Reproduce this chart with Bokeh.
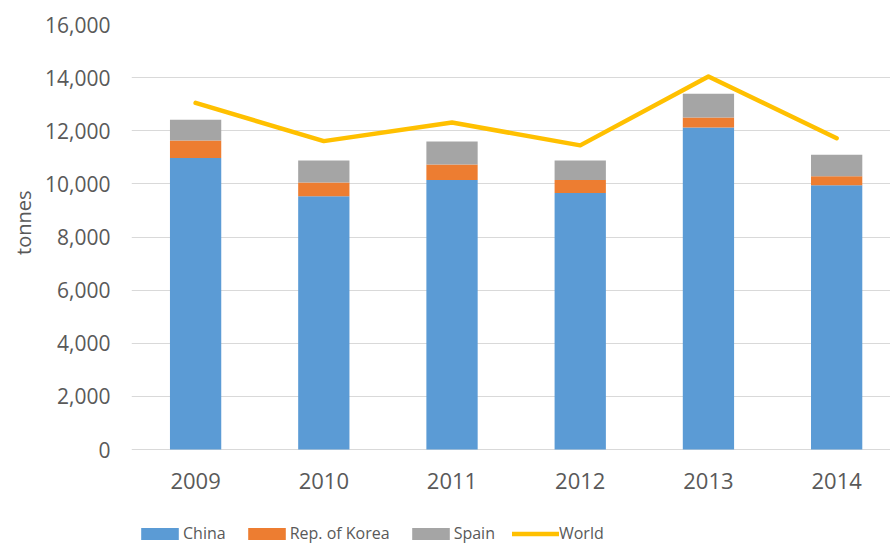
from bokeh.plotting import figure
from bokeh.models import ColumnDataSource, Range1d, FixedTicker, NumeralTickFormatter, Legend, LegendItem, Title
from bokeh.core.properties import value
from bokeh.embed import file_html
from bokeh.resources import INLINE

years = [2009, 2010, 2011, 2012, 2013, 2014]
year_labels = ["2009", "2010", "2011", "2012", "2013", "2014"]
china = [10970, 9530, 10150, 9660, 12120, 9950]
korea = [660, 520, 580, 490, 380, 340]
spain = [780, 830, 870, 730, 890, 810]
world = [13050, 11610, 12310, 11450, 14040, 11720]
y_ticks = [0, 2000, 4000, 6000, 8000, 10000, 12000, 14000, 16000]
series_names = ["China", "Rep. of Korea", "Spain", "World"]
colors = ["#5B9BD5", "#ED7D31", "#A5A5A5", "#FFC000"]

source = ColumnDataSource(dict(year=years, China=china, Korea=korea, Spain=spain, World=world))
label_source = ColumnDataSource(dict(year=years, label=year_labels, base=[0] * len(years)))

FONT = "Open Sans"
TXT = "#595959"

p = figure(width=890, height=545, output_backend="svg", toolbar_location=None,
           x_range=Range1d(2008.5, 2014.42), y_range=Range1d(-3614, 16000),
           x_axis_location=None,
           min_border_left=131, min_border_top=24, min_border_right=0, min_border_bottom=0)
p.outline_line_color = None

rs = p.vbar_stack(["China", "Korea", "Spain"], x="year", width=0.4, source=source,
                  color=colors[:3], line_color=None)
ln = p.line(x="year", y="World", source=source, line_color=colors[3], line_width=4.5,
            line_join="round", line_cap="round")

# category labels under the zero line
p.text(x="year", y="base", text="label", source=label_source, y_offset=31,
       text_align="center", text_baseline="middle", text_font=value(FONT),
       text_font_size="22px", text_color=TXT)

p.xgrid.grid_line_color = None
p.ygrid.grid_line_color = "#D9D9D9"
p.ygrid.grid_line_width = 1
p.ygrid.ticker = FixedTicker(ticks=y_ticks)

p.yaxis.ticker = FixedTicker(ticks=y_ticks)
p.yaxis.formatter = NumeralTickFormatter(format="0,0")
p.yaxis.axis_line_color = None
p.yaxis.major_tick_line_color = None
p.yaxis.minor_tick_line_color = None
p.yaxis.major_label_standoff = 15
p.yaxis.major_label_text_font = FONT
p.yaxis.major_label_text_font_size = "21px"
p.yaxis.major_label_text_color = TXT

ytitle = Title(text="tonnes", align="right", offset=166, text_font=FONT,
               text_font_size="20px", text_font_style="normal", text_color=TXT,
               standoff=11)
p.add_layout(ytitle, "left")

legend = Legend(items=[LegendItem(label=n, renderers=[r]) for n, r in zip(series_names, list(rs) + [ln])],
                orientation="horizontal", location=(5, 1))
legend.border_line_color = None
legend.background_fill_alpha = 0
legend.margin = 0
legend.padding = 0
legend.spacing = 17
legend.glyph_width = 47
legend.glyph_height = 15
legend.label_standoff = 0
legend.label_text_font = FONT
legend.label_text_font_size = "16px"
legend.label_text_color = TXT
p.add_layout(legend, "center")

open("out.html", "w").write(file_html(p, INLINE))
